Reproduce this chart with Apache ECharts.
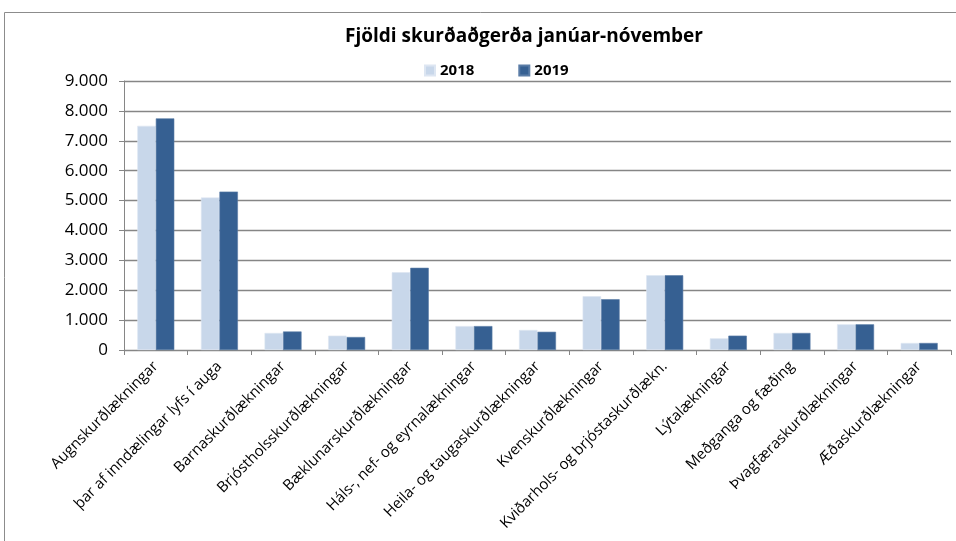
<!DOCTYPE html>
<html>
<head>
<meta charset="utf-8">
<script src="https://cdn.jsdelivr.net/npm/echarts@6/dist/echarts.min.js"></script>
<style>
  html, body { margin: 0; padding: 0; background: #fff; }
  #chart { width: 956px; height: 541px; }
</style>
</head>
<body>
<div id="chart"></div>
<script>
// Flokkar aðgerða
const categories = [
  'Augnskurðlækningar',
  'þar af inndælingar lyfs í auga',
  'Barnaskurðlækningar',
  'Brjóstholsskurðlækningar',
  'Bæklunarskurðlækningar',
  'Háls-, nef- og eyrnalækningar',
  'Heila- og taugaskurðlækningar',
  'Kvenskurðlækningar',
  'Kviðarhols- og brjóstaskurðlækn.',
  'Lýtalækningar',
  'Meðganga og fæðing',
  'Þvagfæraskurðlækningar',
  'Æðaskurðlækningar'
];
const values2018 = [7500, 5100, 570, 480, 2600, 800, 670, 1800, 2500, 390, 570, 860, 235];
const values2019 = [7750, 5300, 620, 435, 2750, 800, 610, 1700, 2500, 480, 570, 860, 235];
const yTicks = [0, 1000, 2000, 3000, 4000, 5000, 6000, 7000, 8000, 9000];

const fmt = v => String(v).replace(/\B(?=(\d{3})+(?!\d))/g, '.');
const font = '"Open Sans", "Liberation Sans", sans-serif';

const myChart = echarts.init(document.getElementById('chart'));
myChart.setOption({
  animation: false,
  textStyle: { fontFamily: font },
  graphic: [{
    type: 'rect',
    shape: { x: 4.5, y: 12.5, width: 1000, height: 600 },
    style: { fill: 'none', stroke: '#8c8c8c', lineWidth: 1 },
    silent: true
  }],
  title: {
    text: 'Fjöldi skurðaðgerða janúar-nóvember',
    left: 519, top: 22, textAlign: 'center',
    textStyle: { fontSize: 19, fontWeight: 'bold', color: '#000', fontFamily: font }
  },
  legend: {
    data: ['2018', '2019'],
    left: 419, top: 58,
    itemWidth: 10, itemHeight: 10, itemGap: 44,
    icon: 'rect',
    textStyle: { fontSize: 15, fontWeight: 'bold', color: '#000', fontFamily: font }
  },
  grid: { left: 124, right: 5, top: 81, bottom: 191 },
  xAxis: {
    type: 'category',
    data: categories,
    axisLine: { lineStyle: { color: '#868686' } },
    axisTick: { show: true, length: 5, lineStyle: { color: '#868686' } },
    axisLabel: { rotate: 45, interval: 0, fontSize: 15, color: '#000', margin: 14 }
  },
  yAxis: {
    type: 'value',
    min: yTicks[0], max: yTicks[yTicks.length - 1], interval: 1000,
    axisLine: { show: true, lineStyle: { color: '#868686' } },
    axisTick: { show: true, length: 5, lineStyle: { color: '#868686' } },
    splitLine: { lineStyle: { color: '#868686', width: 1.3 } },
    axisLabel: { formatter: fmt, fontSize: 17, color: '#000', margin: 16 }
  },
  series: [
    {
      name: '2018', type: 'bar', data: values2018,
      barWidth: 18.5, barGap: '0%',
      itemStyle: { color: '#c8d7ea', borderColor: '#dde6f2', borderWidth: 0.6 }
    },
    {
      name: '2019', type: 'bar', data: values2019,
      barWidth: 18.5,
      itemStyle: { color: '#366092', borderColor: '#5a7ca6', borderWidth: 0.6 }
    }
  ]
});
</script>
</body>
</html>
